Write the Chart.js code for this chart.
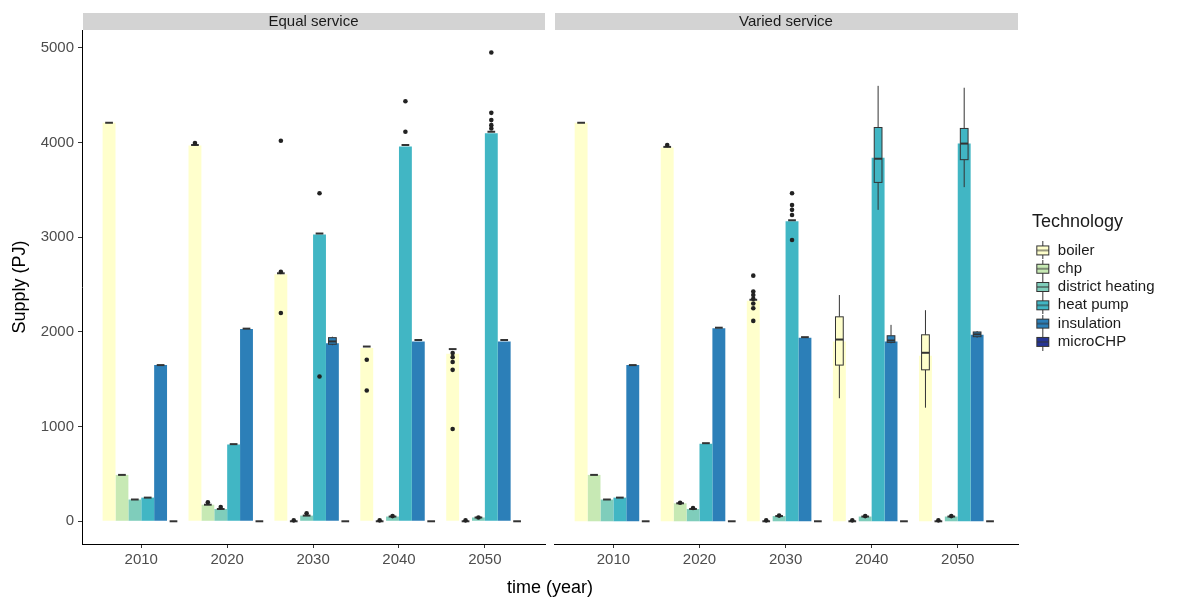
<!DOCTYPE html>
<html>
<head>
<meta charset="utf-8">
<title>Heat supply by technology</title>
<script src="https://cdn.jsdelivr.net/npm/chart.js@4.4.1/dist/chart.umd.min.js"></script>
<style>
  html, body { margin: 0; padding: 0; background: #ffffff; }
  #wrap { position: relative; width: 1192px; height: 597px; }
  #wrap canvas { position: absolute; left: 0; top: 0; }
</style>
</head>
<body>
<div id="wrap">
  <canvas id="equalChart" width="1192" height="597"></canvas>
  <canvas id="variedChart" width="1192" height="597"></canvas>
</div>
<script>
// ---- categories and tick labels ----
const years = ['2010', '2020', '2030', '2040', '2050'];
const technologies = ['boiler', 'chp', 'district heating', 'heat pump', 'insulation', 'microCHP'];
const techColours = ['#ffffcc', '#c7e9b4', '#7fcdbb', '#41b6c4', '#2c7fb8', '#253494'];
const supplyTicks = [0, 1000, 2000, 3000, 4000, 5000];

// ---- Equal service: bar heights (PJ) ----
const equalBoiler     = [4210, 3970, 2610, 1830, 1770];
const equalChp        = [490, 175, 0, 0, 0];
const equalDistrict   = [230, 130, 60, 50, 40];
const equalHeatPump   = [250, 810, 3030, 3960, 4100];
const equalInsulation = [1650, 2030, 1880, 1900, 1900];
const equalMicroChp   = [0, 0, 0, 0, 0];

// Box statistics: a single number is a box collapsed onto its median,
// otherwise [lower whisker, q1, median, q3, upper whisker]
const equalBoilerBox     = [4210, 3975, 2620, 1846, 1819];
const equalChpBox        = [490, 175, 0, 0, 0];
const equalDistrictBox   = [230, 130, 60, 50, 40];
const equalHeatPumpBox   = [250, 815, 3040, 3975, 4115];
const equalInsulationBox = [1650, 2035, [1860, 1870, 1900, 1940, 1950], 1915, 1915];
const equalMicroChpBox   = [0, 0, 0, 0, 0];

// Outlying runs
const equalBoilerOut     = [[], [3995], [4020, 2635, 2200], [1706, 1382], [1777, 1734, 1682, 1600, 975]];
const equalChpOut        = [[], [200], [10], [10], [10]];
const equalDistrictOut   = [[], [150], [85], [55], [40]];
const equalHeatPumpOut   = [[], [], [3465, 1530], [4437, 4115], [4952, 4315, 4238, 4185, 4150]];
const equalInsulationOut = [[], [], [], [], []];
const equalMicroChpOut   = [[], [], [], [], []];

// ---- Varied service: bar heights (PJ) ----
const variedBoiler     = [4210, 3950, 2330, 1900, 1750];
const variedChp        = [490, 190, 0, 0, 0];
const variedDistrict   = [230, 130, 55, 50, 50];
const variedHeatPump   = [250, 820, 3170, 3840, 3990];
const variedInsulation = [1650, 2040, 1940, 1900, 1970];
const variedMicroChp   = [0, 0, 0, 0, 0];

const variedBoilerBox     = [4210, 3955, 2340, [1300, 1650, 1920, 2160, 2390], [1200, 1600, 1780, 1970, 2230]];
const variedChpBox        = [490, 190, 0, 0, 0];
const variedDistrictBox   = [230, 130, 55, 50, 50];
const variedHeatPumpBox   = [250, 825, 3180, [3290, 3580, 3830, 4160, 4600], [3530, 3820, 3990, 4150, 4580]];
const variedInsulationBox = [1650, 2045, 1945, [1880, 1890, 1910, 1960, 2075], [1940, 1950, 1975, 2000, 2010]];
const variedMicroChpBox   = [0, 0, 0, 0, 0];

const variedBoilerOut     = [[], [3975], [2595, 2427, 2390, 2350, 2300, 2251, 2117], [], []];
const variedChpOut        = [[], [195], [10], [10], [10]];
const variedDistrictOut   = [[], [140], [60], [55], [55]];
const variedHeatPumpOut   = [[], [], [3465, 3340, 3290, 3235, 2972], [], []];
const variedInsulationOut = [[], [], [], [], []];
const variedMicroChpOut   = [[], [], [], [], []];

// ---- shared styling ----
const FONT = '"Liberation Sans", Arial, Helvetica, sans-serif';
Chart.defaults.font.family = FONT;
Chart.defaults.color = '#4d4d4d';
const AXIS_DARK = '#333333';

function buildDatasets(values, boxes, outliers) {
  return technologies.map((name, k) => ({
    label: name,
    data: values[k].map((v, i) => ({ x: i, y: v })),
    backgroundColor: techColours[k],
    borderWidth: 0,
    categoryPercentage: 0.9,
    barPercentage: 1.0,
    boxStats: boxes[k],
    outliers: outliers[k]
  }));
}

// Boxplots and outlier points drawn over each bar, positioned from the bar element and y scale
const boxplotLayer = {
  id: 'boxplotLayer',
  afterDatasetsDraw(chart) {
    const ctx = chart.ctx;
    const yScale = chart.scales.y;
    const py = v => yScale.getPixelForValue(v);
    ctx.save();
    chart.data.datasets.forEach((ds, d) => {
      const meta = chart.getDatasetMeta(d);
      meta.data.forEach((bar, i) => {
        const cx = bar.x;
        const half = bar.width * 0.3;
        const s = ds.boxStats[i];
        const st = Array.isArray(s) ? s : [s, s, s, s, s];
        const lo = st[0], q1 = st[1], med = st[2], q3 = st[3], hi = st[4];
        ctx.strokeStyle = AXIS_DARK;
        ctx.lineWidth = 1;
        ctx.beginPath();
        if (hi > q3) { ctx.moveTo(cx, py(q3)); ctx.lineTo(cx, py(hi)); }
        if (lo < q1) { ctx.moveTo(cx, py(q1)); ctx.lineTo(cx, py(lo)); }
        ctx.stroke();
        if (q3 > q1) {
          const top = py(q3), bottom = py(q1);
          ctx.fillStyle = ds.backgroundColor;
          ctx.fillRect(cx - half, top, half * 2, bottom - top);
          ctx.strokeRect(cx - half, top, half * 2, bottom - top);
        }
        ctx.lineWidth = 2;
        ctx.beginPath();
        ctx.moveTo(cx - half, py(med));
        ctx.lineTo(cx + half, py(med));
        ctx.stroke();
        ctx.fillStyle = '#222222';
        ds.outliers[i].forEach(v => {
          ctx.beginPath();
          ctx.arc(cx, py(v), 2.3, 0, Math.PI * 2);
          ctx.fill();
        });
      });
    });
    ctx.restore();
  }
};

// Grey facet strip above each panel
const facetStrip = {
  id: 'facetStrip',
  beforeDraw(chart, args, opts) {
    const { ctx, chartArea: a } = chart;
    ctx.save();
    ctx.fillStyle = '#d3d3d3';
    ctx.fillRect(a.left + 1, 13, a.right - a.left - 1, 17);
    ctx.fillStyle = '#1a1a1a';
    ctx.font = '15px ' + FONT;
    ctx.textAlign = 'center';
    ctx.textBaseline = 'middle';
    ctx.fillText(opts.text, (a.left + a.right) / 2, 22);
    ctx.restore();
  }
};

// Shared x-axis title centred under both panels
const sharedXTitle = {
  id: 'sharedXTitle',
  afterDraw(chart, args, opts) {
    if (!opts.text) return;
    const ctx = chart.ctx;
    ctx.save();
    ctx.fillStyle = '#000000';
    ctx.font = '18px ' + FONT;
    ctx.textAlign = 'center';
    ctx.textBaseline = 'middle';
    ctx.fillText(opts.text, opts.x, opts.y);
    ctx.restore();
  }
};

function yearAxis() {
  return {
    type: 'linear',
    min: -0.69,
    max: 4.70,
    offset: false,
    afterBuildTicks: s => { s.ticks = years.map((_, i) => ({ value: i })); },
    afterFit: s => { s.height = 53; },
    ticks: {
      callback: (v, i) => years[i],
      color: '#4d4d4d',
      font: { size: 15 },
      padding: 3,
      autoSkip: false,
      maxRotation: 0
    },
    grid: { display: true, offset: false, drawOnChartArea: false, drawTicks: true, tickLength: 4, color: AXIS_DARK, lineWidth: 1 },
    border: { display: true, color: '#000000', width: 1 }
  };
}

// Legend key: a small boxplot glyph in each technology colour
function legendGlyph(colour) {
  const c = document.createElement('canvas');
  c.width = 15; c.height = 18;
  const g = c.getContext('2d');
  g.strokeStyle = AXIS_DARK;
  g.lineWidth = 1;
  g.beginPath();
  g.moveTo(7.5, 0); g.lineTo(7.5, 4.5);
  g.moveTo(7.5, 13.5); g.lineTo(7.5, 18);
  g.stroke();
  g.fillStyle = colour;
  g.fillRect(1.5, 4.5, 12, 9);
  g.strokeRect(1.5, 4.5, 12, 9);
  g.beginPath();
  g.moveTo(1.5, 9); g.lineTo(13.5, 9);
  g.stroke();
  return c;
}
const legendGlyphs = techColours.map(legendGlyph);

// ---- Equal service panel (carries the y axis) ----
new Chart(document.getElementById('equalChart'), {
  type: 'bar',
  data: {
    datasets: buildDatasets(
      [equalBoiler, equalChp, equalDistrict, equalHeatPump, equalInsulation, equalMicroChp],
      [equalBoilerBox, equalChpBox, equalDistrictBox, equalHeatPumpBox, equalInsulationBox, equalMicroChpBox],
      [equalBoilerOut, equalChpOut, equalDistrictOut, equalHeatPumpOut, equalInsulationOut, equalMicroChpOut]
    )
  },
  options: {
    responsive: false,
    animation: false,
    layout: { padding: { left: 0, top: 30, right: 647, bottom: 0 } },
    scales: {
      x: yearAxis(),
      y: {
        type: 'linear',
        position: 'left',
        min: -240,
        max: 5190,
        afterBuildTicks: s => { s.ticks = supplyTicks.map(v => ({ value: v })); },
        afterFit: s => { s.width = 82; },
        ticks: { callback: v => String(v), color: '#4d4d4d', font: { size: 15 }, padding: 4 },
        grid: { display: true, drawOnChartArea: false, drawTicks: true, tickLength: 4, color: AXIS_DARK, lineWidth: 1 },
        border: { display: true, color: '#000000', width: 1 },
        title: { display: true, text: 'Supply (PJ)', color: '#000000', font: { size: 18 }, padding: { top: 9, bottom: 0 } }
      }
    },
    plugins: {
      legend: { display: false },
      tooltip: { enabled: false },
      facetStrip: { text: 'Equal service' },
      sharedXTitle: { text: 'time (year)', x: 550, y: 588 }
    }
  },
  plugins: [facetStrip, boxplotLayer, sharedXTitle]
});

// ---- Varied service panel (carries the legend) ----
const variedOptions = {
  responsive: false,
  animation: false,
  layout: { padding: { left: 554, top: 30, right: 0, bottom: 0 } },
  scales: {
    x: yearAxis(),
    y: {
      type: 'linear',
      position: 'right',
      min: -240,
      max: 5190,
      afterBuildTicks: s => { s.ticks = supplyTicks.map(v => ({ value: v })); },
      afterFit: s => { s.width = 14; },
      ticks: { display: false },
      grid: { display: false },
      border: { display: false }
    }
  },
  plugins: {
    tooltip: { enabled: false },
    facetStrip: { text: 'Varied service' },
    sharedXTitle: { text: '' },
    legend: {
      position: 'right',
      align: 'start',
      fullSize: false,
      title: {
        display: true,
        text: 'Technology',
        position: 'start',
        color: '#1a1a1a',
        font: { size: 18 },
        padding: { top: 183, bottom: 5 }
      },
      labels: {
        usePointStyle: true,
        boxWidth: 15,
        boxHeight: 15,
        padding: 3.3,
        color: '#1a1a1a',
        font: { size: 15 },
        generateLabels: () => technologies.map((name, k) => ({
          text: name,
          pointStyle: legendGlyphs[k],
          fillStyle: techColours[k],
          strokeStyle: AXIS_DARK,
          lineWidth: 0,
          hidden: false,
          datasetIndex: k
        }))
      }
    }
  }
};

const variedChart = new Chart(document.getElementById('variedChart'), {
  type: 'bar',
  data: {
    datasets: buildDatasets(
      [variedBoiler, variedChp, variedDistrict, variedHeatPump, variedInsulation, variedMicroChp],
      [variedBoilerBox, variedChpBox, variedDistrictBox, variedHeatPumpBox, variedInsulationBox, variedMicroChpBox],
      [variedBoilerOut, variedChpOut, variedDistrictOut, variedHeatPumpOut, variedInsulationOut, variedMicroChpOut]
    )
  },
  options: variedOptions,
  plugins: [facetStrip, boxplotLayer, sharedXTitle]
});

// keep the panel's right edge at the same place whatever width the legend needs
const panelRight = 1018;
variedOptions.layout.padding.right = Math.max(0, variedChart.chartArea.right - panelRight);
variedChart.update('none');
</script>
</body>
</html>
